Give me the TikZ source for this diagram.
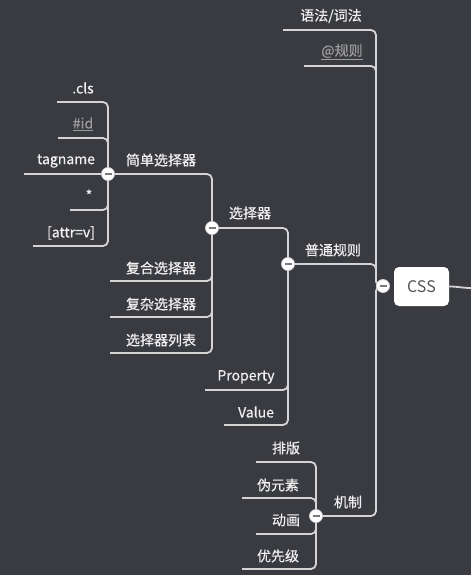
\documentclass[tikz,border=0pt]{standalone}
\usepackage{fontspec}
\newfontfamily\cjk[FakeBold=0.5]{Noto Sans CJK SC}
\newfontfamily\cjkplain{Noto Sans CJK SC}
\setmainfont{Noto Sans CJK SC}
\definecolor{bg}{HTML}{393B40}
\definecolor{ln}{HTML}{D4D4D4}
\definecolor{txt}{HTML}{F0F0F0}
\definecolor{dim}{HTML}{9C9C9C}
\definecolor{dashc}{HTML}{7A7A7A}
\definecolor{csst}{HTML}{555555}
\tikzset{
  conn/.style={draw=ln, line width=1.8pt, rounded corners=5pt},
  lbl/.style={font=\cjk\fontsize{14}{16}\selectfont, text=txt, inner sep=0pt},
  dimlbl/.style={font=\cjk\fontsize{14}{16}\selectfont, text=dim, inner sep=0pt},
  dot/.style={circle, fill=white, draw=ln, line width=0.8pt, minimum size=13pt, inner sep=0pt,
    path picture={\draw[dashc, line width=2.4pt] ([xshift=3pt]path picture bounding box.west) -- ([xshift=-3pt]path picture bounding box.east);}},
  root/.style={rectangle, rounded corners=5pt, fill=white, minimum width=55pt, minimum height=39pt,
    font=\cjkplain\fontsize{16}{18}\selectfont, text=csst}
}
\begin{document}
\begin{tikzpicture}[x=1pt,y=-1pt]
\useasboundingbox (0,0) rectangle (471,575);
\fill[bg] (0,0) rectangle (471,575);

% line ends
\coordinate (e1) at (283,30);
\coordinate (e2) at (304,66);
\coordinate (eP) at (205,390);
\coordinate (eV) at (224,425);
\coordinate (eF) at (110,281);
\coordinate (eC) at (110,317);
\coordinate (eL) at (110,353);
\coordinate (ecls) at (57,102);
\coordinate (eid) at (58,138);
\coordinate (etag) at (24,174);
\coordinate (estar) at (70,210);
\coordinate (eattr) at (33,246);
\coordinate (ep1) at (256,462);
\coordinate (ep2) at (242,498);
\coordinate (ep3) at (256,534);
\coordinate (ep4) at (242,569);
\coordinate (rt) at (471,288);

% root
\node[root] (css) at (421.5,286.5) {CSS};
\draw[conn] (css.east) to[out=0,in=180] (rt);

% dots
\coordinate (cssd) at (383,286);
\coordinate (ptd) at (288,264);
\coordinate (xzd) at (212,228);
\coordinate (jdd) at (108,174);
\coordinate (jzd) at (316,516);

% level 1
\draw[conn] (cssd) -- (376,286) |- (e1);
\draw[conn] (cssd) -- (376,286) |- (e2);
\draw[conn] (cssd) -- (376,286) |- (ptd);
\draw[conn] (cssd) -- (376,286) |- (jzd);
% 普通规则 children
\draw[conn] (ptd) |- (xzd);
\draw[conn] (ptd) |- (eP);
\draw[conn] (ptd) |- (eV);
% 选择器 children
\draw[conn] (xzd) |- (jdd);
\draw[conn] (xzd) |- (eF);
\draw[conn] (xzd) |- (eC);
\draw[conn] (xzd) |- (eL);
% 简单选择器 children
\draw[conn] (jdd) |- (ecls);
\draw[conn] (jdd) |- (eid);
\draw[conn] (jdd) -- (etag);
\draw[conn] (jdd) |- (estar);
\draw[conn] (jdd) |- (eattr);
% 机制 children
\draw[conn] (jzd) |- (ep1);
\draw[conn] (jzd) |- (ep2);
\draw[conn] (jzd) |- (ep3);
\draw[conn] (jzd) |- (ep4);

\node[dot] (cssdot) at (cssd) {};
\node[dot] (ptdot) at (ptd) {};
\node[dot] (xzdot) at (xzd) {};
\node[dot] (jddot) at (jdd) {};
\node[dot] (jzdot) at (jzd) {};

% labels
\node[lbl] (t1) at (331,16) {语法/词法};
\node[dimlbl] (t2) at (342,52) {\underline{@规则}};
\node[lbl] (t3) at (333,250) {普通规则};
\node[lbl] (t4) at (348,502) {机制};
\node[lbl] (t5) at (250,213) {选择器};
\node[lbl] (t6) at (246,377) {Property};
\node[lbl] (t7) at (256,412) {Value};
\node[lbl] (t8) at (161,160) {简单选择器};
\node[lbl] (t9) at (161,268) {复合选择器};
\node[lbl] (t10) at (161,304) {复杂选择器};
\node[lbl] (t11) at (161,340) {选择器列表};
\node[lbl] (t12) at (83,88) {.cls};
\node[dimlbl] (t13) at (83,124) {\underline{\#id}};
\node[lbl] (t14) at (66,161) {tagname};
\node[lbl] (t15) at (89,195) {*};
\node[lbl] (t16) at (71,233) {[attr=v]};
\node[lbl] (t17) at (286,448) {排版};
\node[lbl] (t18) at (278,485) {伪元素};
\node[lbl] (t19) at (286,520) {动画};
\node[lbl] (t20) at (278,556) {优先级};
\end{tikzpicture}
\end{document}
